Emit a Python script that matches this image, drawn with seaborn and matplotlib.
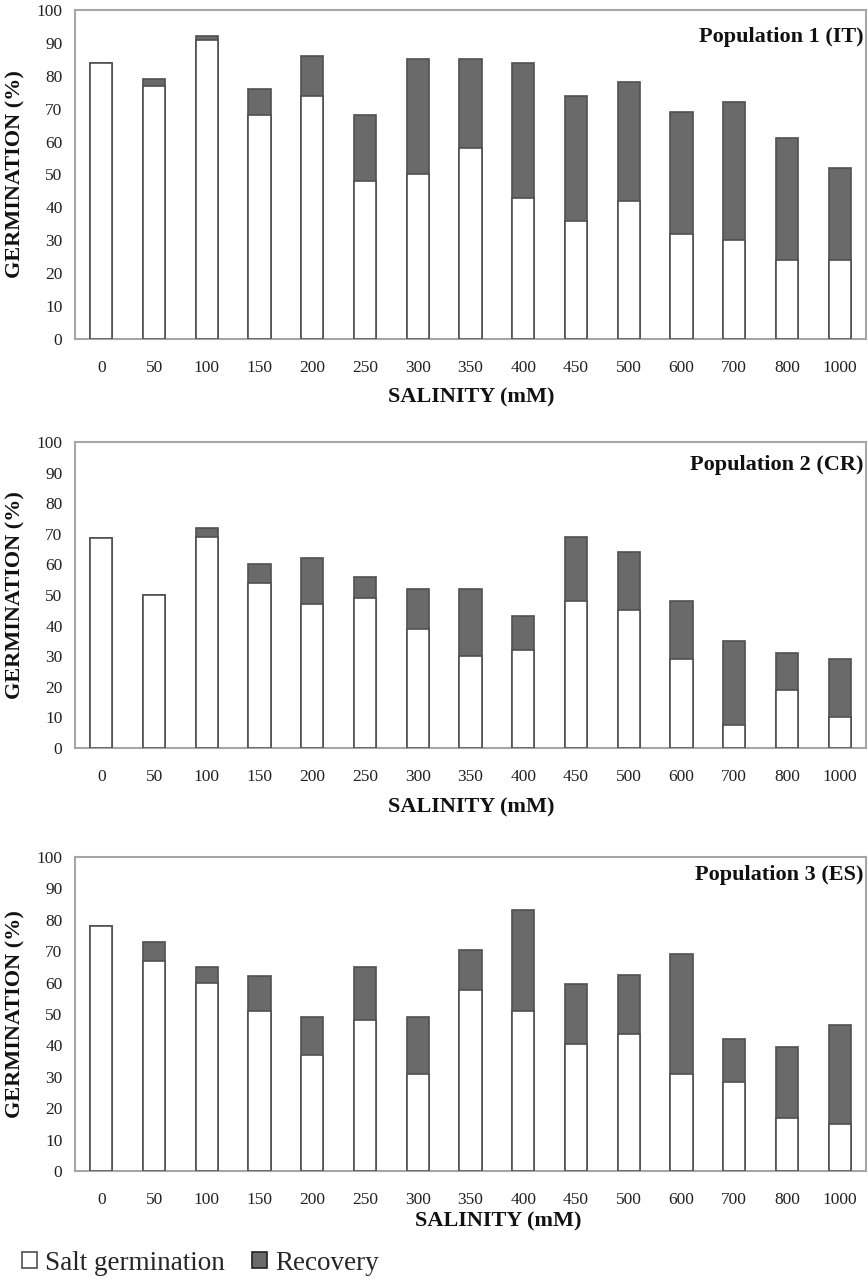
import matplotlib
matplotlib.use("Agg")
import matplotlib.pyplot as plt
import seaborn as sns
import pandas as pd
from matplotlib.patches import Patch

sns.set_theme(style="white")
plt.rcParams['font.family'] = ['Liberation Serif', 'DejaVu Serif']

salinity = ["0", "50", "100", "150", "200", "250", "300", "350", "400",
            "450", "500", "600", "700", "800", "1000"]

pop1_salt = [84, 77, 91, 68, 74, 48, 50, 58, 43, 36, 42, 32, 30, 24, 24]
pop1_total = [84, 79, 92, 76, 86, 68, 85, 85, 84, 74, 78, 69, 72, 61, 52]

pop2_salt = [68.5, 50, 69, 54, 47, 49, 39, 30, 32, 48, 45, 29, 7.5, 19, 10]
pop2_total = [68.5, 50, 72, 60, 62, 56, 52, 52, 43, 69, 64, 48, 35, 31, 29]

pop3_salt = [78, 67, 60, 51, 37, 48, 31, 57.5, 51, 40.5, 43.5, 31, 28.5, 17, 15]
pop3_total = [78, 73, 65, 62, 49, 65, 49, 70.5, 83, 59.5, 62.5, 69, 42, 39.5, 46.5]

titles = ["Population 1 (IT)", "Population 2 (CR)", "Population 3 (ES)"]
series = [(pop1_salt, pop1_total), (pop2_salt, pop2_total), (pop3_salt, pop3_total)]

W, H = 868, 1284
fig = plt.figure(figsize=(W / 100, H / 100), dpi=100)

# axes boxes in pixel coords: (top, bottom), x-label centre (x, y), title top y
boxes = [(10, 339), (442, 748), (857, 1171)]
xlab_pos = [(471, 397), (471, 807), (498, 1221)]
title_top = [27, 455, 865]
left_px, right_px = 75, 866

frame_col = "#a6a6a6"
edge_col = "#505050"
rec_col = "#6a6a6a"

for (top, bot), (lx, ly), tt, title, (salt, total) in zip(boxes, xlab_pos, title_top, titles, series):
    hpx = bot - top
    wpx = right_px - left_px
    ax = fig.add_axes([left_px / W, 1 - bot / H, wpx / W, hpx / H])
    df = pd.DataFrame({"salinity": salinity, "salt": salt, "total": total})
    sns.barplot(data=df, x="salinity", y="total", color=rec_col, saturation=1,
                width=0.42, edgecolor=edge_col, linewidth=1.2, ax=ax, zorder=2)
    sns.barplot(data=df, x="salinity", y="salt", color="white", saturation=1,
                width=0.42, edgecolor=edge_col, linewidth=1.2, ax=ax, zorder=3)
    ax.set_ylim(0, 100)
    ax.set_xlim(-0.5, len(salinity) - 0.5)
    ax.set_yticks(range(0, 101, 10))
    ax.tick_params(axis="both", length=0, labelsize=12.5, colors="#222222")
    ax.tick_params(axis="x", pad=15)
    ax.tick_params(axis="y", pad=9)
    for s in ax.spines.values():
        s.set_visible(True)
        s.set_color(frame_col)
        s.set_linewidth(1.5)
    ax.set_xlabel("SALINITY (mM)", fontsize=16, fontweight="bold", color="#111111")
    ax.xaxis.set_label_coords((lx - left_px) / wpx, -(ly - bot) / hpx)
    ax.xaxis.label.set_va("center")
    ax.set_ylabel("GERMINATION (%)", fontsize=16, fontweight="bold", color="#111111")
    ax.yaxis.set_label_coords(-(75 - 15) / wpx, 0.5)
    ax.yaxis.label.set_va("center")
    ax.text(0.997, 1 - (tt - top) / hpx, title, transform=ax.transAxes, ha="right", va="top",
            fontsize=16, fontweight="bold", color="#111111")
    ax.grid(False)

handles = [Patch(facecolor="white", edgecolor=edge_col, linewidth=1.2, label="Salt germination"),
           Patch(facecolor=rec_col, edgecolor="#222222", linewidth=1.2, label="Recovery")]
fig.legend(handles=handles, loc="center left", bbox_to_anchor=(22 / W, 1 - 1263 / H), ncol=2,
           frameon=False, fontsize=19.5, handlelength=0.55, handleheight=0.55,
           handletextpad=0.3, columnspacing=1.0, borderpad=0, borderaxespad=0)

fig.savefig("out.png", dpi=100)
